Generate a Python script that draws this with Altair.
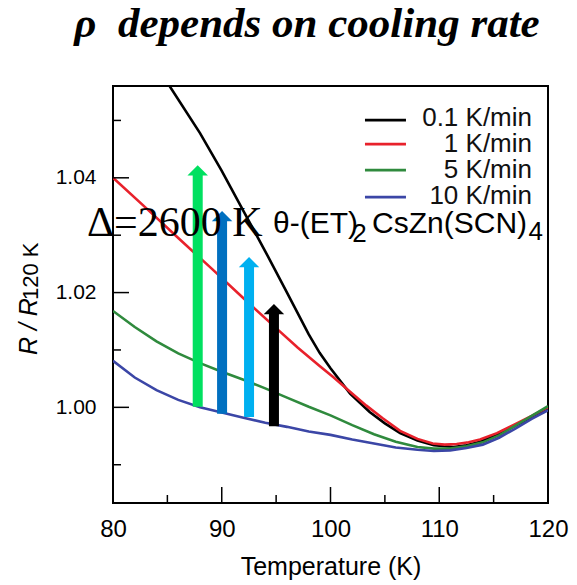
import altair as alt
import pandas as pd

# ---------------- data ----------------
series_names = ["0.1 K/min", "1 K/min", "5 K/min", "10 K/min"]
series_colors = ["#000000", "#e8212b", "#2f8a3d", "#3b46a6"]

T_black = [85.2, 88, 90, 92, 94, 96, 98, 99, 100, 101.8, 103.6, 105, 106.4, 108, 109.5,
           111.3, 112.5, 113.75, 115, 116.8, 118.5, 120]
R_black = [1.0560, 1.0478, 1.0412, 1.0342, 1.0272, 1.0200, 1.0127, 1.0095, 1.0068, 1.0024,
           0.9992, 0.9972, 0.9955, 0.9942, 0.9934, 0.9931, 0.9934, 0.9940, 0.9950, 0.9966,
           0.9983, 0.9998]

T_red = [80, 83, 86, 89, 92, 95, 97, 99, 100.3, 101.8, 103.3, 104.8, 106.4, 108, 109.4,
         110.5, 111.6, 112.7, 113.75, 115.3, 116.8, 118.5, 120]
R_red = [1.0400, 1.0348, 1.0295, 1.0243, 1.0190, 1.0138, 1.0104, 1.0072, 1.0052, 1.0027,
         1.0003, 0.9981, 0.9959, 0.9945, 0.9937, 0.9935, 0.9936, 0.9939, 0.9944, 0.9955,
         0.9969, 0.9985, 1.0000]

T_green = [80, 82, 84, 86, 88, 90, 92, 94, 96, 98, 100, 102, 104, 106, 108, 109.5, 111,
           112.5, 114, 115.5, 117, 118.5, 120]
R_green = [1.0168, 1.0140, 1.0115, 1.0094, 1.0077, 1.0062, 1.0048, 1.0033, 1.0017, 1.0001,
           0.9986, 0.9969, 0.9953, 0.9940, 0.9931, 0.9928, 0.9928, 0.9932, 0.9939, 0.9951,
           0.9968, 0.9985, 1.0002]

T_blue = [80, 82, 84, 86, 88, 90, 92, 94, 96, 98, 100, 102, 104, 106, 108, 109.5, 111,
          112.5, 114, 115.5, 117, 118.5, 120]
R_blue = [1.0081, 1.0052, 1.0030, 1.0013, 1.0000, 0.9991, 0.9982, 0.9973, 0.9966, 0.9958,
          0.9952, 0.9944, 0.9937, 0.9930, 0.9926, 0.9924, 0.9925, 0.9929, 0.9935, 0.9947,
          0.9963, 0.9980, 0.9995]

# arrows: temperature, base value, tip value, colour
arrow_T = [87.79, 90.03, 92.51, 94.80]
arrow_base = [1.0001, 0.9989, 0.9983, 0.9967]
arrow_tip = [1.0422, 1.0342, 1.0262, 1.0180]
arrow_colors = ["#00e060", "#0070c0", "#00b0f0", "#000000"]

# axes
X_DOMAIN = [80, 120]
Y_DOMAIN = [0.98333, 1.056]
x_label_values = [80, 90, 100, 110, 120]
y_label_values = [1.00, 1.02, 1.04]
x_major_ticks = [90, 100, 110]
x_minor_ticks = [85, 95, 105, 115]
y_major_ticks = [1.00, 1.02, 1.04]
y_minor_ticks = [0.99, 1.01, 1.03, 1.05]

# legend (drawn inside the plot)
legend_x1 = [103.17] * 4
legend_x2 = [106.94] * 4
legend_line_y = [1.05005, 1.04587, 1.04134, 1.03664]
legend_text_x = [118.53] * 4
legend_text_y = [1.0490, 1.0445, 1.0399, 1.0354]

# annotations
title_text = ["\u03c1\u00a0 depends on cooling rate"]
title_x, title_y = [97.84], [1.06451]
delta_text = ["\u0394=2600 K"]
delta_x, delta_y = [77.61], [1.02984]
formula_main = ["\u03b8-(ET)", "CsZn(SCN)"]
formula_main_x = [94.71, 103.82]
formula_main_y = [1.03037, 1.03037]
formula_sub = ["2", "4"]
formula_sub_x = [102.0, 118.2]
formula_sub_y = [1.02890, 1.02915]
ytitle_main = ["R / R"]
ytitle_main_x, ytitle_main_y = [73.0], [1.00911]
ytitle_sub = ["120 K"]
ytitle_sub_x, ytitle_sub_y = [73.1], [1.01869]

# ---------------- build ----------------
W, H = 435, 417
HEAD_LEN = 0.0017  # arrow head length in data units

rows = []
for name, Ts, Rs in zip(series_names, [T_black, T_red, T_green, T_blue],
                        [R_black, R_red, R_green, R_blue]):
    for t, r in zip(Ts, Rs):
        rows.append({"series": name, "T": t, "R": r})
curves = pd.DataFrame(rows)

xs = alt.Scale(domain=X_DOMAIN, nice=False, zero=False)
ys = alt.Scale(domain=Y_DOMAIN, nice=False, zero=False)

xaxis = alt.Axis(values=x_label_values, labelFontSize=24, labelFont="Liberation Sans",
                 labelColor="black", labelPadding=14, labelFlush=False, tickSize=0,
                 ticks=False, domain=False, grid=False, title="Temperature (K)",
                 titleFont="Liberation Sans", titleFontSize=25, titleFontWeight="normal",
                 titleColor="black", titlePadding=13)
yaxis = alt.Axis(values=y_label_values, format=".2f", labelFontSize=21,
                 labelFont="Liberation Sans", labelColor="black", labelPadding=17,
                 labelFlush=False, tickSize=0, ticks=False, domain=False, grid=False,
                 title=None)


def X(field):
    return alt.X(field, scale=xs, axis=xaxis, title="Temperature (K)")


def Y(field):
    return alt.Y(field, scale=ys, axis=yaxis, title=None)


lines = alt.Chart(curves).mark_line(strokeWidth=2.6, clip=True).encode(
    x=X("T:Q"),
    y=Y("R:Q"),
    color=alt.Color("series:N", scale=alt.Scale(domain=series_names, range=series_colors),
                    legend=None),
    detail="series:N",
)

# inward ticks
x_ticks_major = alt.Chart(pd.DataFrame({"v": x_major_ticks})).mark_rule(
    color="black", strokeWidth=1.5).encode(
    x=X("v:Q"), y=alt.value(H), y2=alt.value(H - 16))
x_ticks_minor = alt.Chart(pd.DataFrame({"v": x_minor_ticks})).mark_rule(
    color="black", strokeWidth=1.5).encode(
    x=X("v:Q"), y=alt.value(H), y2=alt.value(H - 8))
y_ticks_major = alt.Chart(pd.DataFrame({"v": y_major_ticks})).mark_rule(
    color="black", strokeWidth=1.5).encode(
    y=Y("v:Q"), x=alt.value(0), x2=alt.value(16))
y_ticks_minor = alt.Chart(pd.DataFrame({"v": y_minor_ticks})).mark_rule(
    color="black", strokeWidth=1.5).encode(
    y=Y("v:Q"), x=alt.value(0), x2=alt.value(8))

# arrows
arr = pd.DataFrame({"T": arrow_T, "base": arrow_base, "tip": arrow_tip, "c": arrow_colors})
arr["shaft_top"] = arr["tip"] - HEAD_LEN
shafts = alt.Chart(arr).mark_rule(strokeWidth=10, strokeCap="butt").encode(
    x=X("T:Q"),
    y=Y("base:Q"),
    y2="shaft_top:Q",
    color=alt.Color("c:N", scale=None),
)
heads = alt.Chart(arr).mark_point(shape="M-1,1L1,1L0,0Z", filled=True, size=420,
                                  opacity=1, strokeWidth=0).encode(
    x=X("T:Q"),
    y=Y("tip:Q"),
    color=alt.Color("c:N", scale=None),
)

# legend
leg = pd.DataFrame({"x1": legend_x1, "x2": legend_x2, "y": legend_line_y,
                    "tx": legend_text_x, "ty": legend_text_y, "name": series_names,
                    "c": series_colors})
leg_lines = alt.Chart(leg).mark_rule(strokeWidth=2.6).encode(
    x=X("x1:Q"), x2="x2:Q",
    y=Y("y:Q"),
    color=alt.Color("c:N", scale=None),
)
leg_text = alt.Chart(leg).mark_text(align="right", baseline="alphabetic", fontSize=26,
                                    font="Liberation Sans", color="#111111").encode(
    x=X("tx:Q"), y=Y("ty:Q"),
    text="name:N",
)


def text_layer(texts, xv, yv, **kw):
    df = pd.DataFrame({"x": xv, "y": yv, "t": texts})
    return alt.Chart(df).mark_text(baseline="alphabetic", color="black", **kw).encode(
        x=X("x:Q"), y=Y("y:Q"), text="t:N")


title_layer = text_layer(title_text, title_x, title_y, align="center",
                         font="Liberation Serif", fontSize=43, fontStyle="italic",
                         fontWeight="bold")
delta_layer = text_layer(delta_text, delta_x, delta_y, align="left",
                         font="Liberation Serif", fontSize=42)
formula_layer = text_layer(formula_main, formula_main_x, formula_main_y, align="left",
                           font="Liberation Sans", fontSize=30)
formula_sub_layer = text_layer(formula_sub, formula_sub_x, formula_sub_y, align="left",
                               font="Liberation Sans", fontSize=26)
ytitle_main_layer = text_layer(ytitle_main, ytitle_main_x, ytitle_main_y, align="left",
                               font="Liberation Sans", fontSize=25, fontStyle="italic",
                               angle=270)
ytitle_sub_layer = text_layer(ytitle_sub, ytitle_sub_x, ytitle_sub_y, align="left",
                              font="Liberation Sans", fontSize=22, angle=270)

chart = alt.layer(
    lines, x_ticks_major, x_ticks_minor, y_ticks_major, y_ticks_minor,
    shafts, heads, leg_lines, leg_text,
    delta_layer, formula_layer, formula_sub_layer,
    ytitle_main_layer, ytitle_sub_layer, title_layer,
).properties(
    width=W, height=H,
    padding={"left": 113, "top": 86, "right": 29, "bottom": 82},
    autosize=alt.AutoSizeParams(type="none"),
    background="white",
).configure_view(stroke="black", strokeWidth=2)

chart.save("out.html", embed_options={"renderer": "svg", "actions": False})
